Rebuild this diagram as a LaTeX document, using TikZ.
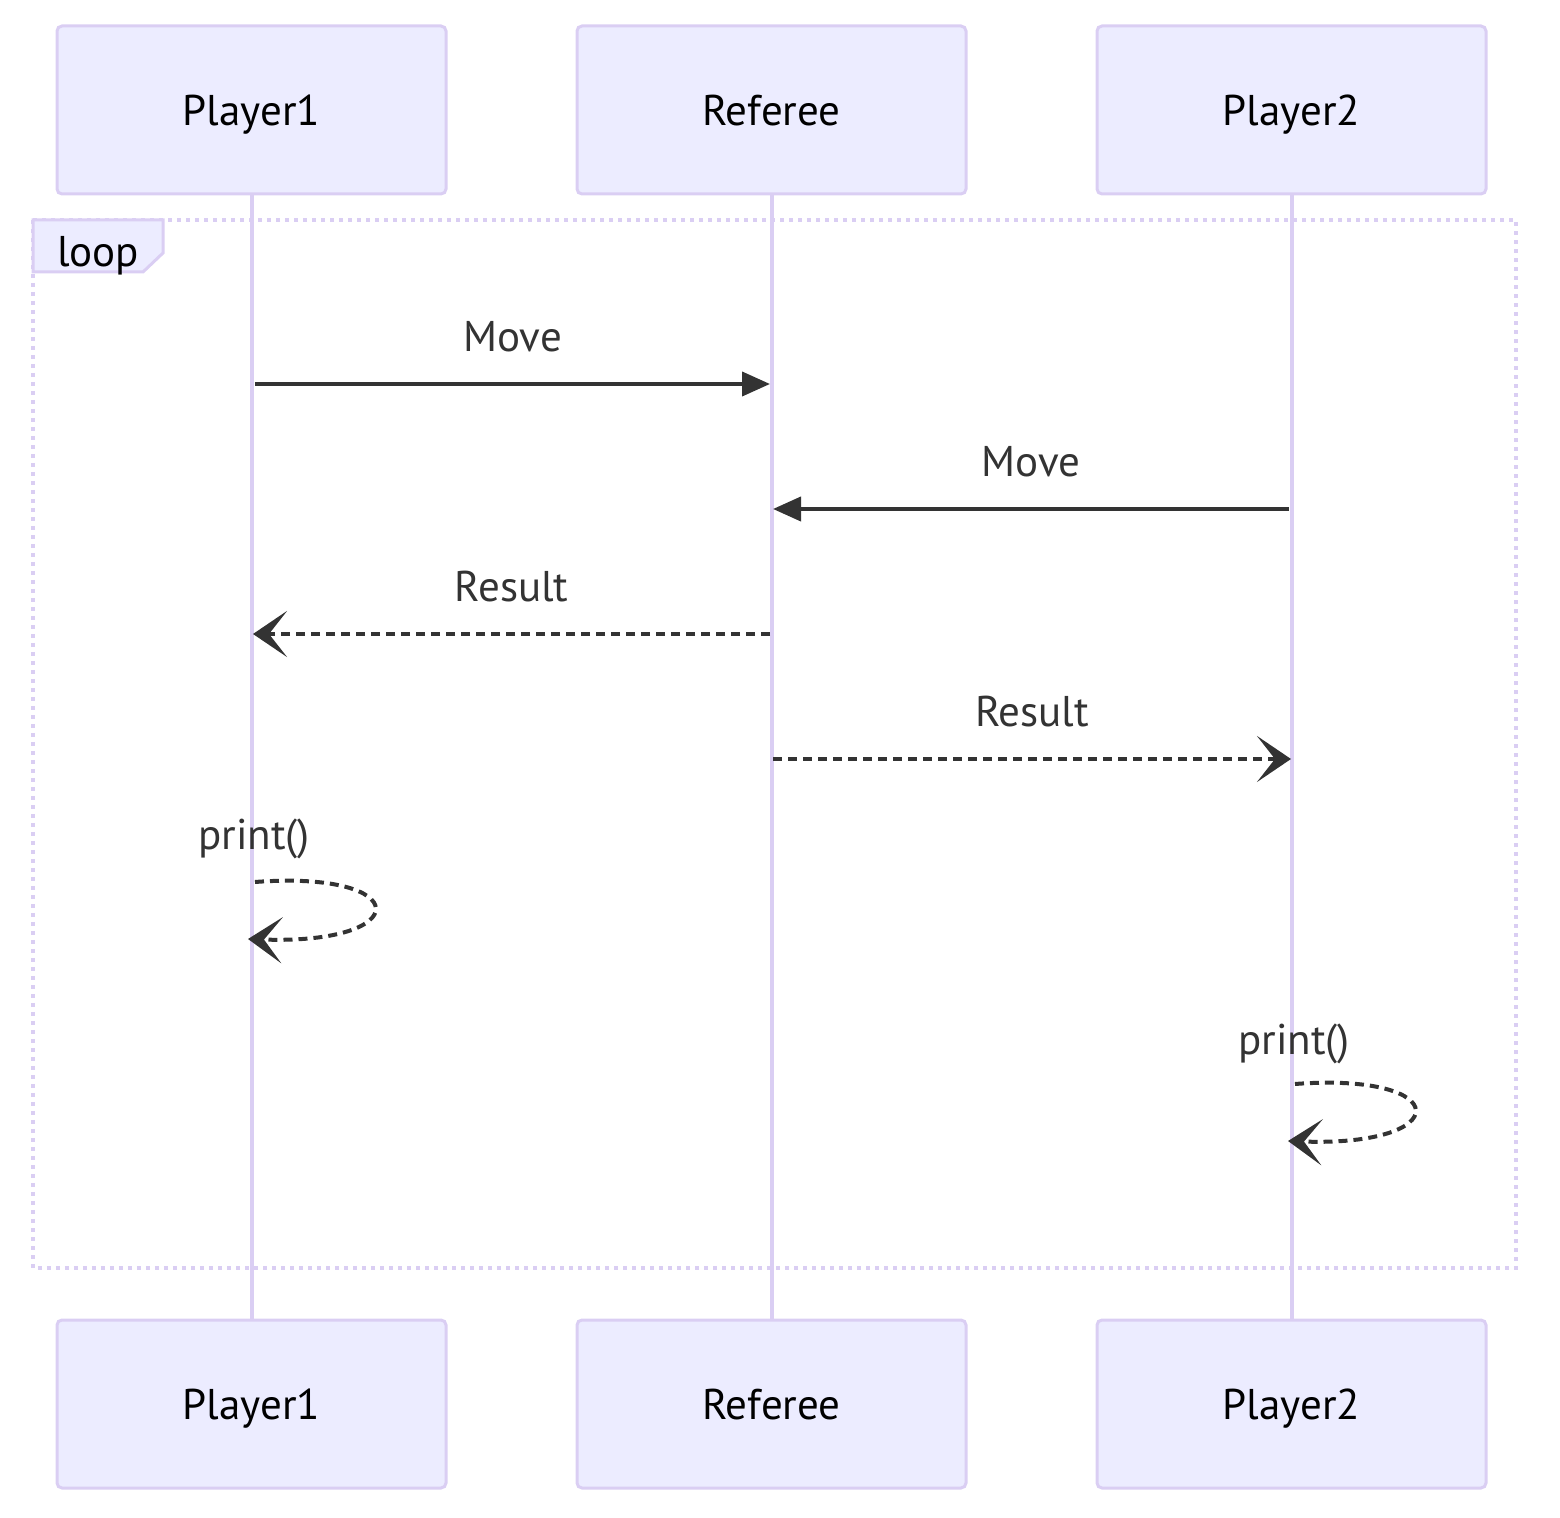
\documentclass[tikz,border=0pt]{standalone}
\usepackage{fontspec}
\setmainfont{PT Sans}
\usetikzlibrary{arrows.meta}

\definecolor{actorfill}{HTML}{ECECFF}
\definecolor{actorline}{HTML}{DACEF3}
\definecolor{msgcol}{HTML}{333333}

\tikzset{
    bigtext/.style={font=\fontsize{21.5}{26}\selectfont, text height=9.7pt, text depth=0pt, inner sep=2pt},
    actor/.style={draw=actorline, fill=actorfill, line width=1.5pt, rounded corners=2.5pt,
        minimum width=194.5pt, minimum height=84pt, bigtext, text height=15.7pt, text=black},
    lifeline/.style={draw=actorline, line width=2pt},
    msg/.style={draw=msgcol, line width=2pt},
    reply/.style={msg, dash pattern=on 4.5pt off 3pt},
    msglabel/.style={text=msgcol, bigtext},
    solidtip/.style={-{Triangle[length=14pt, width=12pt]}},
    opentip/.style={-{Stealth[length=17pt, width=23pt, inset=9pt]}}
}

\begin{document}
\begin{tikzpicture}[x=0.5pt, y=-0.5pt]
        \useasboundingbox (0,0) rectangle (1560,1518);

        % Draw the actors at top and bottom
        \foreach \name/\x/\txt in {p1/251.5/Player1, ref/771.5/Referee, p2/1291.5/Player2} {
            \node[actor] (\name top) at (\x,110) {\txt};
            \node[actor] (\name bot) at (\x,1404) {\txt};
            \draw[lifeline] (\name top.south) -- (\name bot.north);
        }

        % Draw the loop frame
        \draw[actorline, line width=2pt, dash pattern=on 2pt off 2.5pt] (33,220) rectangle (1516,1268);
        \filldraw[fill=actorfill, draw=actorline, line width=1.5pt]
            (33,220) -- (163,220) -- (163,253) -- (143,272) -- (33,272) -- cycle;
        \node[bigtext, anchor=base] (looplabel) at (98,267) {loop};

        % Points on the lifelines
        \coordinate (p1a) at (255,384);
        \coordinate (refa) at (770,384);
        \coordinate (p2b) at (1289,509);
        \coordinate (refb) at (773,509);
        \coordinate (refc) at (770,634);
        \coordinate (p1c) at (253,634);
        \coordinate (refd) at (773,759);
        \coordinate (p2d) at (1291,759);

        % Messages
        \draw[msg, solidtip] (p1a) -- node[msglabel, above=13pt] (lab1) {Move} (refa);
        \draw[msg, solidtip] (p2b) -- node[msglabel, above=13pt] (lab2) {Move} (refb);
        \draw[reply, opentip] (refc) -- node[msglabel, above=13pt] (lab3) {Result} (p1c);
        \draw[reply, opentip] (refd) -- node[msglabel, above=13pt] (lab4) {Result} (p2d);

        % Self calls
        \coordinate (p1e) at (255,882);
        \coordinate (p1f) at (248,939);
        \coordinate (p2e) at (1295,1084);
        \coordinate (p2f) at (1288,1141);
        \node[msglabel, anchor=base] (lab5) at (254,850) {print()};
        \node[msglabel, anchor=base] (lab6) at (1294,1054) {print()};
        \draw[reply, opentip] (p1e) .. controls (415,870) and (415,945) .. (p1f);
        \draw[reply, opentip] (p2e) .. controls (1455,1072) and (1455,1147) .. (p2f);
\end{tikzpicture}
\end{document}
